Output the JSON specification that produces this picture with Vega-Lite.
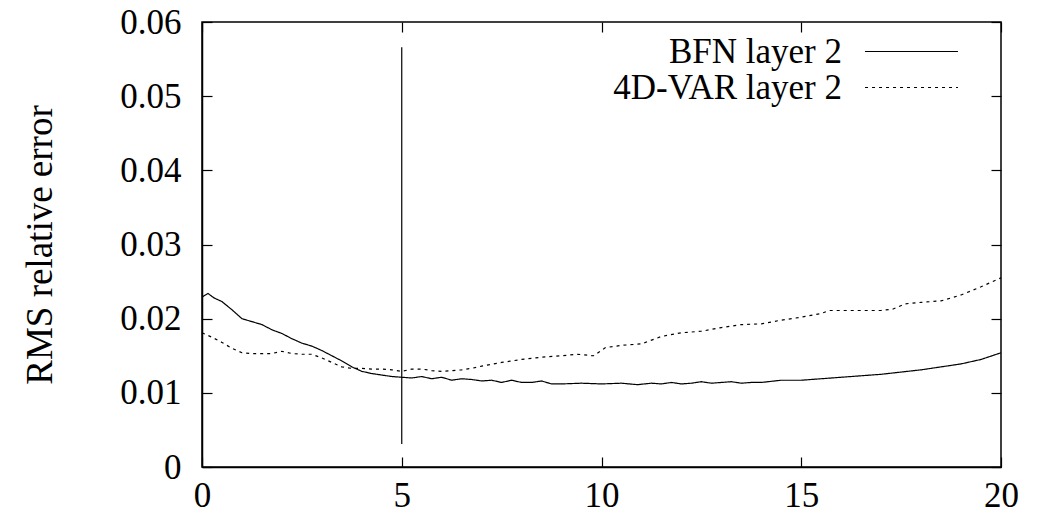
{
  "$schema": "https://vega.github.io/schema/vega-lite/v6.json",
  "width": 799,
  "height": 445,
  "autosize": {"type": "none"},
  "padding": {"left": 202, "top": 22, "right": 41, "bottom": 54},
  "background": "white",
  "config": {
    "font": "Liberation Serif",
    "view": {"stroke": "black", "strokeWidth": 1.5},
    "axis": {
      "grid": false,
      "domainColor": "black",
      "domainWidth": 1.5,
      "tickColor": "black",
      "tickWidth": 1.2,
      "tickSize": -10,
      "labelFont": "Liberation Serif",
      "labelFontSize": 35,
      "labelColor": "black",
      "titleFont": "Liberation Serif",
      "titleFontSize": 37,
      "titleFontWeight": "normal",
      "titleColor": "black"
    }
  },
  "datasets": {
    "series": [
      {"t": 0, "v": 0.0229, "s": "BFN layer 2"},
      {"t": 0.15, "v": 0.0234, "s": "BFN layer 2"},
      {"t": 0.3, "v": 0.0228, "s": "BFN layer 2"},
      {"t": 0.5, "v": 0.0223, "s": "BFN layer 2"},
      {"t": 0.75, "v": 0.0212, "s": "BFN layer 2"},
      {"t": 1.0, "v": 0.0200, "s": "BFN layer 2"},
      {"t": 1.25, "v": 0.0196, "s": "BFN layer 2"},
      {"t": 1.5, "v": 0.0192, "s": "BFN layer 2"},
      {"t": 1.75, "v": 0.0185, "s": "BFN layer 2"},
      {"t": 2.0, "v": 0.0180, "s": "BFN layer 2"},
      {"t": 2.25, "v": 0.0173, "s": "BFN layer 2"},
      {"t": 2.5, "v": 0.0167, "s": "BFN layer 2"},
      {"t": 2.75, "v": 0.0163, "s": "BFN layer 2"},
      {"t": 3.0, "v": 0.0157, "s": "BFN layer 2"},
      {"t": 3.25, "v": 0.0150, "s": "BFN layer 2"},
      {"t": 3.5, "v": 0.0143, "s": "BFN layer 2"},
      {"t": 3.75, "v": 0.0135, "s": "BFN layer 2"},
      {"t": 4.0, "v": 0.0129, "s": "BFN layer 2"},
      {"t": 4.25, "v": 0.0126, "s": "BFN layer 2"},
      {"t": 4.5, "v": 0.0124, "s": "BFN layer 2"},
      {"t": 4.75, "v": 0.0122, "s": "BFN layer 2"},
      {"t": 5.0, "v": 0.0121, "s": "BFN layer 2"},
      {"t": 5.25, "v": 0.0120, "s": "BFN layer 2"},
      {"t": 5.5, "v": 0.0122, "s": "BFN layer 2"},
      {"t": 5.75, "v": 0.0119, "s": "BFN layer 2"},
      {"t": 6.0, "v": 0.0121, "s": "BFN layer 2"},
      {"t": 6.25, "v": 0.0117, "s": "BFN layer 2"},
      {"t": 6.5, "v": 0.0119, "s": "BFN layer 2"},
      {"t": 6.75, "v": 0.0118, "s": "BFN layer 2"},
      {"t": 7.0, "v": 0.0116, "s": "BFN layer 2"},
      {"t": 7.25, "v": 0.0117, "s": "BFN layer 2"},
      {"t": 7.5, "v": 0.0114, "s": "BFN layer 2"},
      {"t": 7.75, "v": 0.0117, "s": "BFN layer 2"},
      {"t": 8.0, "v": 0.0114, "s": "BFN layer 2"},
      {"t": 8.25, "v": 0.0114, "s": "BFN layer 2"},
      {"t": 8.5, "v": 0.0116, "s": "BFN layer 2"},
      {"t": 8.75, "v": 0.0112, "s": "BFN layer 2"},
      {"t": 9.0, "v": 0.0112, "s": "BFN layer 2"},
      {"t": 9.5, "v": 0.0113, "s": "BFN layer 2"},
      {"t": 10.0, "v": 0.0112, "s": "BFN layer 2"},
      {"t": 10.5, "v": 0.0113, "s": "BFN layer 2"},
      {"t": 10.9, "v": 0.0111, "s": "BFN layer 2"},
      {"t": 11.25, "v": 0.0113, "s": "BFN layer 2"},
      {"t": 11.5, "v": 0.0112, "s": "BFN layer 2"},
      {"t": 11.75, "v": 0.0114, "s": "BFN layer 2"},
      {"t": 12.0, "v": 0.0112, "s": "BFN layer 2"},
      {"t": 12.25, "v": 0.0113, "s": "BFN layer 2"},
      {"t": 12.5, "v": 0.0115, "s": "BFN layer 2"},
      {"t": 12.75, "v": 0.0113, "s": "BFN layer 2"},
      {"t": 13.0, "v": 0.0114, "s": "BFN layer 2"},
      {"t": 13.25, "v": 0.0115, "s": "BFN layer 2"},
      {"t": 13.5, "v": 0.0113, "s": "BFN layer 2"},
      {"t": 13.75, "v": 0.0114, "s": "BFN layer 2"},
      {"t": 14.0, "v": 0.0114, "s": "BFN layer 2"},
      {"t": 14.5, "v": 0.0117, "s": "BFN layer 2"},
      {"t": 15.0, "v": 0.0117, "s": "BFN layer 2"},
      {"t": 15.5, "v": 0.0119, "s": "BFN layer 2"},
      {"t": 16.0, "v": 0.0121, "s": "BFN layer 2"},
      {"t": 16.5, "v": 0.0123, "s": "BFN layer 2"},
      {"t": 17.0, "v": 0.0125, "s": "BFN layer 2"},
      {"t": 17.5, "v": 0.0128, "s": "BFN layer 2"},
      {"t": 18.0, "v": 0.0131, "s": "BFN layer 2"},
      {"t": 18.5, "v": 0.0135, "s": "BFN layer 2"},
      {"t": 19.0, "v": 0.0139, "s": "BFN layer 2"},
      {"t": 19.5, "v": 0.0145, "s": "BFN layer 2"},
      {"t": 20.0, "v": 0.0154, "s": "BFN layer 2"},
      {"t": 0, "v": 0.0181, "s": "4D-VAR layer 2"},
      {"t": 0.25, "v": 0.0175, "s": "4D-VAR layer 2"},
      {"t": 0.5, "v": 0.0168, "s": "4D-VAR layer 2"},
      {"t": 0.75, "v": 0.0160, "s": "4D-VAR layer 2"},
      {"t": 1.0, "v": 0.0154, "s": "4D-VAR layer 2"},
      {"t": 1.25, "v": 0.0153, "s": "4D-VAR layer 2"},
      {"t": 1.5, "v": 0.0153, "s": "4D-VAR layer 2"},
      {"t": 1.75, "v": 0.0153, "s": "4D-VAR layer 2"},
      {"t": 2.0, "v": 0.0156, "s": "4D-VAR layer 2"},
      {"t": 2.25, "v": 0.0153, "s": "4D-VAR layer 2"},
      {"t": 2.5, "v": 0.0152, "s": "4D-VAR layer 2"},
      {"t": 2.75, "v": 0.0152, "s": "4D-VAR layer 2"},
      {"t": 3.0, "v": 0.0147, "s": "4D-VAR layer 2"},
      {"t": 3.25, "v": 0.0141, "s": "4D-VAR layer 2"},
      {"t": 3.5, "v": 0.0135, "s": "4D-VAR layer 2"},
      {"t": 3.75, "v": 0.0133, "s": "4D-VAR layer 2"},
      {"t": 4.0, "v": 0.0133, "s": "4D-VAR layer 2"},
      {"t": 4.25, "v": 0.0132, "s": "4D-VAR layer 2"},
      {"t": 4.5, "v": 0.0132, "s": "4D-VAR layer 2"},
      {"t": 4.75, "v": 0.0131, "s": "4D-VAR layer 2"},
      {"t": 5.0, "v": 0.0129, "s": "4D-VAR layer 2"},
      {"t": 5.25, "v": 0.0132, "s": "4D-VAR layer 2"},
      {"t": 5.5, "v": 0.0132, "s": "4D-VAR layer 2"},
      {"t": 5.75, "v": 0.0130, "s": "4D-VAR layer 2"},
      {"t": 6.0, "v": 0.0129, "s": "4D-VAR layer 2"},
      {"t": 6.25, "v": 0.0130, "s": "4D-VAR layer 2"},
      {"t": 6.5, "v": 0.0131, "s": "4D-VAR layer 2"},
      {"t": 6.75, "v": 0.0133, "s": "4D-VAR layer 2"},
      {"t": 7.0, "v": 0.0136, "s": "4D-VAR layer 2"},
      {"t": 7.5, "v": 0.0141, "s": "4D-VAR layer 2"},
      {"t": 8.0, "v": 0.0145, "s": "4D-VAR layer 2"},
      {"t": 8.5, "v": 0.0148, "s": "4D-VAR layer 2"},
      {"t": 9.0, "v": 0.0150, "s": "4D-VAR layer 2"},
      {"t": 9.4, "v": 0.0152, "s": "4D-VAR layer 2"},
      {"t": 9.8, "v": 0.0150, "s": "4D-VAR layer 2"},
      {"t": 10.1, "v": 0.0161, "s": "4D-VAR layer 2"},
      {"t": 10.5, "v": 0.0164, "s": "4D-VAR layer 2"},
      {"t": 11.0, "v": 0.0166, "s": "4D-VAR layer 2"},
      {"t": 11.5, "v": 0.0176, "s": "4D-VAR layer 2"},
      {"t": 12.0, "v": 0.0181, "s": "4D-VAR layer 2"},
      {"t": 12.5, "v": 0.0183, "s": "4D-VAR layer 2"},
      {"t": 13.0, "v": 0.0188, "s": "4D-VAR layer 2"},
      {"t": 13.5, "v": 0.0192, "s": "4D-VAR layer 2"},
      {"t": 14.0, "v": 0.0193, "s": "4D-VAR layer 2"},
      {"t": 14.5, "v": 0.0198, "s": "4D-VAR layer 2"},
      {"t": 15.0, "v": 0.0202, "s": "4D-VAR layer 2"},
      {"t": 15.5, "v": 0.0207, "s": "4D-VAR layer 2"},
      {"t": 15.7, "v": 0.0211, "s": "4D-VAR layer 2"},
      {"t": 16.0, "v": 0.0211, "s": "4D-VAR layer 2"},
      {"t": 16.5, "v": 0.0211, "s": "4D-VAR layer 2"},
      {"t": 17.0, "v": 0.0211, "s": "4D-VAR layer 2"},
      {"t": 17.3, "v": 0.0213, "s": "4D-VAR layer 2"},
      {"t": 17.6, "v": 0.0220, "s": "4D-VAR layer 2"},
      {"t": 18.0, "v": 0.0222, "s": "4D-VAR layer 2"},
      {"t": 18.5, "v": 0.0224, "s": "4D-VAR layer 2"},
      {"t": 19.0, "v": 0.0232, "s": "4D-VAR layer 2"},
      {"t": 19.5, "v": 0.0243, "s": "4D-VAR layer 2"},
      {"t": 20.0, "v": 0.0255, "s": "4D-VAR layer 2"}
    ],
    "marker": [{"t": 5, "lo": 0.0031, "hi": 0.0566}]
  },
  "resolve": {"axis": {"x": "independent", "y": "independent"}},
  "layer": [
    {
      "data": {"name": "series"},
      "mark": {"type": "line", "color": "black", "strokeWidth": 1.2},
      "encoding": {
        "x": {
          "field": "t", "type": "quantitative",
          "scale": {"domain": [0, 20], "nice": false, "zero": false},
          "axis": {"orient": "bottom", "values": [0, 5, 10, 15, 20], "title": null, "labelPadding": 21, "labelFlush": false}
        },
        "y": {
          "field": "v", "type": "quantitative",
          "scale": {"domain": [0, 0.06], "nice": false},
          "axis": {"orient": "left", "values": [0, 0.01, 0.02, 0.03, 0.04, 0.05, 0.06], "format": "~g", "title": "RMS relative error", "titlePadding": 60, "labelPadding": 31, "labelFlush": false}
        },
        "strokeDash": {
          "field": "s", "type": "nominal",
          "scale": {"domain": ["BFN layer 2", "4D-VAR layer 2"], "range": [[1, 0], [3, 4]]},
          "legend": {
            "title": null,
            "orient": "none",
            "legendX": 692,
            "legendY": 12,
            "symbolType": "M-4,0H4",
            "symbolSize": 540,
            "symbolStrokeWidth": 1.2,
            "symbolStrokeColor": "black",
            "symbolFillColor": "transparent",
            "labelFont": "Liberation Serif",
            "labelFontSize": 35,
            "labelColor": "black",
            "labelAlign": "right",
            "labelOffset": -87,
            "labelLimit": 400,
            "rowPadding": -2,
            "padding": 0
          }
        }
      }
    },
    {
      "data": {"name": "marker"},
      "mark": {"type": "rule", "color": "black", "strokeWidth": 1.2},
      "encoding": {
        "x": {"field": "t", "type": "quantitative", "axis": {"orient": "top", "values": [0, 5, 10, 15, 20], "labels": false, "title": null, "domain": false}},
        "y": {"field": "lo", "type": "quantitative", "axis": {"orient": "right", "values": [0, 0.01, 0.02, 0.03, 0.04, 0.05, 0.06], "labels": false, "title": null, "domain": false}},
        "y2": {"field": "hi"}
      }
    }
  ]
}
